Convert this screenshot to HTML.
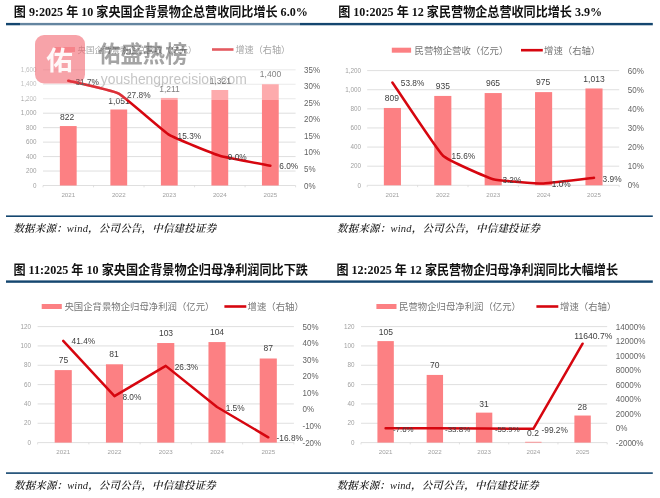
<!DOCTYPE html>
<html lang="zh"><head><meta charset="utf-8"><title>charts</title>
<style>
html,body{margin:0;padding:0;background:#fff}
body{width:660px;height:498px;overflow:hidden}
svg{display:block;filter:blur(0.3px)}
text{font-family:'Liberation Sans','Noto Sans CJK SC',sans-serif;white-space:pre}
.tt{font-family:'Liberation Serif','Noto Sans CJK SC',serif;font-size:13px;font-weight:bold;fill:#111}
.ll{font-size:6.3px;fill:#a0a0a0;text-anchor:end}
.xl{font-size:6.2px;fill:#a0a0a0;text-anchor:middle}
.rl{fill:#646464}
.bl{font-size:8.5px;fill:#404040;text-anchor:middle}
.dl{fill:#404040}
.lg{fill:#767676}
.src{font-family:'Liberation Serif','Noto Serif CJK SC',serif;font-size:10.5px;font-style:italic;font-weight:600;fill:#222}
.w0{font-size:26.5px;font-weight:bold;fill:#fff;fill-opacity:.92;text-anchor:middle}
.w1{font-size:22.2px;font-weight:bold;fill:#a4a4a4;mix-blend-mode:multiply}
.w2{font-size:14.6px;fill:#c6c6c6;mix-blend-mode:multiply}
</style>
</head><body>
<svg width="660" height="498" viewBox="0 0 660 498">
<rect width="660" height="498" fill="#fff"/>
<g>
<text x="13.8" y="16.3" class="tt" textLength="294" lengthAdjust="spacingAndGlyphs">图 9:2025 年 10 家央国企背景物企总营收同比增长 6.0%</text>
<rect x="6" y="22.9" width="324" height="2.4" fill="#14466f"/>
<line x1="43" x2="295.6" y1="185.5" y2="185.5" stroke="#d4d4d4" stroke-width="0.75"/>
<text x="36.5" y="187.7" class="ll">0</text>
<line x1="43" x2="295.6" y1="171.04" y2="171.04" stroke="#d4d4d4" stroke-width="0.75"/>
<text x="36.5" y="173.24" class="ll">200</text>
<line x1="43" x2="295.6" y1="156.57" y2="156.57" stroke="#d4d4d4" stroke-width="0.75"/>
<text x="36.5" y="158.77" class="ll">400</text>
<line x1="43" x2="295.6" y1="142.11" y2="142.11" stroke="#d4d4d4" stroke-width="0.75"/>
<text x="36.5" y="144.31" class="ll">600</text>
<line x1="43" x2="295.6" y1="127.65" y2="127.65" stroke="#d4d4d4" stroke-width="0.75"/>
<text x="36.5" y="129.85" class="ll">800</text>
<line x1="43" x2="295.6" y1="113.19" y2="113.19" stroke="#d4d4d4" stroke-width="0.75"/>
<text x="36.5" y="115.39" class="ll">1,000</text>
<line x1="43" x2="295.6" y1="98.72" y2="98.72" stroke="#d4d4d4" stroke-width="0.75"/>
<text x="36.5" y="100.92" class="ll">1,200</text>
<line x1="43" x2="295.6" y1="84.26" y2="84.26" stroke="#d4d4d4" stroke-width="0.75"/>
<text x="36.5" y="86.46" class="ll">1,400</text>
<line x1="43" x2="295.6" y1="69.8" y2="69.8" stroke="#d4d4d4" stroke-width="0.75"/>
<text x="36.5" y="72" class="ll">1,600</text>
<line x1="43" x2="43" y1="185.5" y2="187.3" stroke="#d4d4d4" stroke-width="0.7"/>
<line x1="93.52" x2="93.52" y1="185.5" y2="187.3" stroke="#d4d4d4" stroke-width="0.7"/>
<line x1="144.04" x2="144.04" y1="185.5" y2="187.3" stroke="#d4d4d4" stroke-width="0.7"/>
<line x1="194.56" x2="194.56" y1="185.5" y2="187.3" stroke="#d4d4d4" stroke-width="0.7"/>
<line x1="245.08" x2="245.08" y1="185.5" y2="187.3" stroke="#d4d4d4" stroke-width="0.7"/>
<line x1="295.6" x2="295.6" y1="185.5" y2="187.3" stroke="#d4d4d4" stroke-width="0.7"/>
<rect x="59.86" y="126.06" width="16.8" height="59.44" fill="#fc8083"/>
<rect x="110.38" y="109.5" width="16.8" height="76" fill="#fc8083"/>
<rect x="160.9" y="97.93" width="16.8" height="87.57" fill="#fc8083"/>
<rect x="211.42" y="89.98" width="16.8" height="95.52" fill="#fc8083"/>
<rect x="261.94" y="84.26" width="16.8" height="101.24" fill="#fc8083"/>
<text x="68.26" y="196.9" class="xl">2021</text>
<text x="118.78" y="196.9" class="xl">2022</text>
<text x="169.3" y="196.9" class="xl">2023</text>
<text x="219.82" y="196.9" class="xl">2024</text>
<text x="270.34" y="196.9" class="xl">2025</text>
<text transform="translate(304 188.5) scale(0.92 1)" class="rl" font-size="8.7">0%</text>
<text transform="translate(304 171.97) scale(0.92 1)" class="rl" font-size="8.7">5%</text>
<text transform="translate(304 155.44) scale(0.92 1)" class="rl" font-size="8.7">10%</text>
<text transform="translate(304 138.91) scale(0.92 1)" class="rl" font-size="8.7">15%</text>
<text transform="translate(304 122.39) scale(0.92 1)" class="rl" font-size="8.7">20%</text>
<text transform="translate(304 105.86) scale(0.92 1)" class="rl" font-size="8.7">25%</text>
<text transform="translate(304 89.33) scale(0.92 1)" class="rl" font-size="8.7">30%</text>
<text transform="translate(304 72.8) scale(0.92 1)" class="rl" font-size="8.7">35%</text>
<text x="67.2" y="119.6" class="bl">822</text>
<text x="119" y="104" class="bl">1,051</text>
<text x="169.5" y="91.6" class="bl">1,211</text>
<text x="220.4" y="83.5" class="bl">1,321</text>
<text x="270.5" y="77" class="bl">1,400</text>
<path d="M68.26 80.71 C71.04 81.42 113.22 90.62 118.78 93.6 C124.34 96.58 163.74 131.5 169.3 134.92 C174.86 138.34 214.26 154.06 219.82 155.75 C225.38 157.44 267.56 165.12 270.34 165.67" fill="none" stroke="#d6060f" stroke-width="2.5" stroke-linejoin="round" stroke-linecap="round"/>
<text x="75.4" y="85.2" class="dl" font-size="8.3">31.7%</text>
<text x="127" y="97.8" class="dl" font-size="8.3">27.8%</text>
<text x="177.6" y="139.4" class="dl" font-size="8.3">15.3%</text>
<text x="227.8" y="159.8" class="dl" font-size="8.3">9.0%</text>
<text x="279.3" y="169.4" class="dl" font-size="8.3">6.0%</text>
<rect x="55" y="47" width="20" height="5" fill="#fc8083"/>
<text x="77.5" y="52.8" class="lg" font-size="8.5">央国企背景物企总营收（亿元）</text>
<line x1="212" x2="233.5" y1="49.5" y2="49.5" stroke="#d6060f" stroke-width="2.6"/>
<text x="235.5" y="52.8" class="lg" font-size="9.1">增速（右轴）</text>
<rect x="6" y="215.4" width="324" height="1.6" fill="#14466f"/>
<text x="13.4" y="231.5" class="src" textLength="202.8" lengthAdjust="spacing">数据来源：<tspan font-weight="normal">wind</tspan>，公司公告，中信建投证券</text>
</g>
<g>
<text x="338.2" y="16.3" class="tt" textLength="264" lengthAdjust="spacingAndGlyphs">图 10:2025 年 12 家民营物企总营收同比增长 3.9%</text>
<rect x="330" y="22.9" width="322.8" height="2.4" fill="#14466f"/>
<line x1="367.2" x2="619.2" y1="185.3" y2="185.3" stroke="#d4d4d4" stroke-width="0.75"/>
<text x="361" y="187.5" class="ll">0</text>
<line x1="367.2" x2="619.2" y1="166.18" y2="166.18" stroke="#d4d4d4" stroke-width="0.75"/>
<text x="361" y="168.38" class="ll">200</text>
<line x1="367.2" x2="619.2" y1="147.07" y2="147.07" stroke="#d4d4d4" stroke-width="0.75"/>
<text x="361" y="149.27" class="ll">400</text>
<line x1="367.2" x2="619.2" y1="127.95" y2="127.95" stroke="#d4d4d4" stroke-width="0.75"/>
<text x="361" y="130.15" class="ll">600</text>
<line x1="367.2" x2="619.2" y1="108.83" y2="108.83" stroke="#d4d4d4" stroke-width="0.75"/>
<text x="361" y="111.03" class="ll">800</text>
<line x1="367.2" x2="619.2" y1="89.72" y2="89.72" stroke="#d4d4d4" stroke-width="0.75"/>
<text x="361" y="91.92" class="ll">1,000</text>
<line x1="367.2" x2="619.2" y1="70.6" y2="70.6" stroke="#d4d4d4" stroke-width="0.75"/>
<text x="361" y="72.8" class="ll">1,200</text>
<line x1="367.2" x2="367.2" y1="185.3" y2="187.1" stroke="#d4d4d4" stroke-width="0.7"/>
<line x1="417.6" x2="417.6" y1="185.3" y2="187.1" stroke="#d4d4d4" stroke-width="0.7"/>
<line x1="468" x2="468" y1="185.3" y2="187.1" stroke="#d4d4d4" stroke-width="0.7"/>
<line x1="518.4" x2="518.4" y1="185.3" y2="187.1" stroke="#d4d4d4" stroke-width="0.7"/>
<line x1="568.8" x2="568.8" y1="185.3" y2="187.1" stroke="#d4d4d4" stroke-width="0.7"/>
<line x1="619.2" x2="619.2" y1="185.3" y2="187.1" stroke="#d4d4d4" stroke-width="0.7"/>
<rect x="383.85" y="107.97" width="17.1" height="77.33" fill="#fc8083"/>
<rect x="434.25" y="95.93" width="17.1" height="89.37" fill="#fc8083"/>
<rect x="484.65" y="93.06" width="17.1" height="92.24" fill="#fc8083"/>
<rect x="535.05" y="92.11" width="17.1" height="93.19" fill="#fc8083"/>
<rect x="585.45" y="88.47" width="17.1" height="96.83" fill="#fc8083"/>
<text x="392.4" y="196.7" class="xl">2021</text>
<text x="442.8" y="196.7" class="xl">2022</text>
<text x="493.2" y="196.7" class="xl">2023</text>
<text x="543.6" y="196.7" class="xl">2024</text>
<text x="594" y="196.7" class="xl">2025</text>
<text transform="translate(627.8 188.3) scale(0.92 1)" class="rl" font-size="8.7">0%</text>
<text transform="translate(627.8 169.18) scale(0.92 1)" class="rl" font-size="8.7">10%</text>
<text transform="translate(627.8 150.07) scale(0.92 1)" class="rl" font-size="8.7">20%</text>
<text transform="translate(627.8 130.95) scale(0.92 1)" class="rl" font-size="8.7">30%</text>
<text transform="translate(627.8 111.83) scale(0.92 1)" class="rl" font-size="8.7">40%</text>
<text transform="translate(627.8 92.72) scale(0.92 1)" class="rl" font-size="8.7">50%</text>
<text transform="translate(627.8 73.6) scale(0.92 1)" class="rl" font-size="8.7">60%</text>
<text x="391.8" y="100.9" class="bl">809</text>
<text x="442.8" y="89.2" class="bl">935</text>
<text x="493" y="86.2" class="bl">965</text>
<text x="543.2" y="85.3" class="bl">975</text>
<text x="594" y="82" class="bl">1,013</text>
<path d="M392.4 82.45 C395.17 86.47 437.26 150.16 442.8 155.48 C448.34 160.8 487.66 177.65 493.2 179.18 C498.74 180.72 538.06 183.46 543.6 183.39 C549.14 183.31 591.23 178.15 594 177.84" fill="none" stroke="#d6060f" stroke-width="2.5" stroke-linejoin="round" stroke-linecap="round"/>
<text x="400.8" y="85.8" class="dl" font-size="8.3">53.8%</text>
<text x="451.6" y="159" class="dl" font-size="8.3">15.6%</text>
<text x="502.4" y="183.4" class="dl" font-size="8.3">3.2%</text>
<text x="551.8" y="187.3" class="dl" font-size="8.3">1.0%</text>
<text x="602.6" y="182.4" class="dl" font-size="8.3">3.9%</text>
<rect x="391.8" y="47.7" width="19.3" height="5" fill="#fc8083"/>
<text x="414.5" y="53.5" class="lg" font-size="9.4">民营物企营收（亿元）</text>
<line x1="521" x2="542.8" y1="50.2" y2="50.2" stroke="#d6060f" stroke-width="2.6"/>
<text x="544" y="53.5" class="lg" font-size="9.4">增速（右轴）</text>
<rect x="330" y="215.4" width="322.8" height="1.6" fill="#14466f"/>
<text x="337" y="231.5" class="src" textLength="203" lengthAdjust="spacing">数据来源：<tspan font-weight="normal">wind</tspan>，公司公告，中信建投证券</text>
</g>
<g>
<text x="13.4" y="274.3" class="tt" textLength="294.6" lengthAdjust="spacingAndGlyphs">图 11:2025 年 10 家央国企背景物企归母净利润同比下跌</text>
<rect x="6" y="280.4" width="324" height="2.4" fill="#14466f"/>
<line x1="37.6" x2="293.9" y1="442.6" y2="442.6" stroke="#d4d4d4" stroke-width="0.75"/>
<text x="31" y="444.8" class="ll">0</text>
<line x1="37.6" x2="293.9" y1="423.27" y2="423.27" stroke="#d4d4d4" stroke-width="0.75"/>
<text x="31" y="425.47" class="ll">20</text>
<line x1="37.6" x2="293.9" y1="403.93" y2="403.93" stroke="#d4d4d4" stroke-width="0.75"/>
<text x="31" y="406.13" class="ll">40</text>
<line x1="37.6" x2="293.9" y1="384.6" y2="384.6" stroke="#d4d4d4" stroke-width="0.75"/>
<text x="31" y="386.8" class="ll">60</text>
<line x1="37.6" x2="293.9" y1="365.27" y2="365.27" stroke="#d4d4d4" stroke-width="0.75"/>
<text x="31" y="367.47" class="ll">80</text>
<line x1="37.6" x2="293.9" y1="345.93" y2="345.93" stroke="#d4d4d4" stroke-width="0.75"/>
<text x="31" y="348.13" class="ll">100</text>
<line x1="37.6" x2="293.9" y1="326.6" y2="326.6" stroke="#d4d4d4" stroke-width="0.75"/>
<text x="31" y="328.8" class="ll">120</text>
<line x1="37.6" x2="37.6" y1="442.6" y2="444.4" stroke="#d4d4d4" stroke-width="0.7"/>
<line x1="88.86" x2="88.86" y1="442.6" y2="444.4" stroke="#d4d4d4" stroke-width="0.7"/>
<line x1="140.12" x2="140.12" y1="442.6" y2="444.4" stroke="#d4d4d4" stroke-width="0.7"/>
<line x1="191.38" x2="191.38" y1="442.6" y2="444.4" stroke="#d4d4d4" stroke-width="0.7"/>
<line x1="242.64" x2="242.64" y1="442.6" y2="444.4" stroke="#d4d4d4" stroke-width="0.7"/>
<line x1="293.9" x2="293.9" y1="442.6" y2="444.4" stroke="#d4d4d4" stroke-width="0.7"/>
<rect x="54.68" y="370.1" width="17.1" height="72.5" fill="#fc8083"/>
<rect x="105.94" y="364.3" width="17.1" height="78.3" fill="#fc8083"/>
<rect x="157.2" y="343.03" width="17.1" height="99.57" fill="#fc8083"/>
<rect x="208.46" y="342.07" width="17.1" height="100.53" fill="#fc8083"/>
<rect x="259.72" y="358.5" width="17.1" height="84.1" fill="#fc8083"/>
<text x="63.23" y="454" class="xl">2021</text>
<text x="114.49" y="454" class="xl">2022</text>
<text x="165.75" y="454" class="xl">2023</text>
<text x="217.01" y="454" class="xl">2024</text>
<text x="268.27" y="454" class="xl">2025</text>
<text transform="translate(302.5 445.6) scale(0.92 1)" class="rl" font-size="8.7">-20%</text>
<text transform="translate(302.5 429.03) scale(0.92 1)" class="rl" font-size="8.7">-10%</text>
<text transform="translate(302.5 412.46) scale(0.92 1)" class="rl" font-size="8.7">0%</text>
<text transform="translate(302.5 395.89) scale(0.92 1)" class="rl" font-size="8.7">10%</text>
<text transform="translate(302.5 379.31) scale(0.92 1)" class="rl" font-size="8.7">20%</text>
<text transform="translate(302.5 362.74) scale(0.92 1)" class="rl" font-size="8.7">30%</text>
<text transform="translate(302.5 346.17) scale(0.92 1)" class="rl" font-size="8.7">40%</text>
<text transform="translate(302.5 329.6) scale(0.92 1)" class="rl" font-size="8.7">50%</text>
<text x="63.5" y="363" class="bl">75</text>
<text x="114" y="357.1" class="bl">81</text>
<text x="166" y="335.9" class="bl">103</text>
<text x="217" y="334.7" class="bl">104</text>
<text x="268.3" y="351.4" class="bl">87</text>
<path d="M63.23 340.85 L114.49 396.2 L165.75 365.87 L217.01 406.97 L268.27 437.3" fill="none" stroke="#d6060f" stroke-width="2.5" stroke-linejoin="round" stroke-linecap="round"/>
<text x="71.6" y="344.4" class="dl" font-size="8.3">41.4%</text>
<text x="122.4" y="399.9" class="dl" font-size="8.3">8.0%</text>
<text x="174.7" y="369.9" class="dl" font-size="8.3">26.3%</text>
<text x="225.7" y="411" class="dl" font-size="8.3">1.5%</text>
<text x="276.6" y="441.4" class="dl" font-size="8.3">-16.8%</text>
<rect x="41.7" y="304" width="20.1" height="5" fill="#fc8083"/>
<text x="64.4" y="309.8" class="lg" font-size="9.4">央国企背景物企归母净利润（亿元）</text>
<line x1="224.4" x2="246.3" y1="306.5" y2="306.5" stroke="#d6060f" stroke-width="2.6"/>
<text x="247.6" y="309.8" class="lg" font-size="9.4">增速（右轴）</text>
<rect x="6" y="472.3" width="324" height="1.6" fill="#14466f"/>
<text x="14" y="488.5" class="src" textLength="201.8" lengthAdjust="spacing">数据来源：<tspan font-weight="normal">wind</tspan>，公司公告，中信建投证券</text>
</g>
<g>
<text x="336.4" y="274.3" class="tt" textLength="281.6" lengthAdjust="spacingAndGlyphs">图 12:2025 年 12 家民营物企归母净利润同比大幅增长</text>
<rect x="330" y="280.4" width="322.8" height="2.4" fill="#14466f"/>
<line x1="361" x2="607.2" y1="442.6" y2="442.6" stroke="#d4d4d4" stroke-width="0.75"/>
<text x="354.5" y="444.8" class="ll">0</text>
<line x1="361" x2="607.2" y1="423.27" y2="423.27" stroke="#d4d4d4" stroke-width="0.75"/>
<text x="354.5" y="425.47" class="ll">20</text>
<line x1="361" x2="607.2" y1="403.93" y2="403.93" stroke="#d4d4d4" stroke-width="0.75"/>
<text x="354.5" y="406.13" class="ll">40</text>
<line x1="361" x2="607.2" y1="384.6" y2="384.6" stroke="#d4d4d4" stroke-width="0.75"/>
<text x="354.5" y="386.8" class="ll">60</text>
<line x1="361" x2="607.2" y1="365.27" y2="365.27" stroke="#d4d4d4" stroke-width="0.75"/>
<text x="354.5" y="367.47" class="ll">80</text>
<line x1="361" x2="607.2" y1="345.93" y2="345.93" stroke="#d4d4d4" stroke-width="0.75"/>
<text x="354.5" y="348.13" class="ll">100</text>
<line x1="361" x2="607.2" y1="326.6" y2="326.6" stroke="#d4d4d4" stroke-width="0.75"/>
<text x="354.5" y="328.8" class="ll">120</text>
<line x1="361" x2="361" y1="442.6" y2="444.4" stroke="#d4d4d4" stroke-width="0.7"/>
<line x1="410.24" x2="410.24" y1="442.6" y2="444.4" stroke="#d4d4d4" stroke-width="0.7"/>
<line x1="459.48" x2="459.48" y1="442.6" y2="444.4" stroke="#d4d4d4" stroke-width="0.7"/>
<line x1="508.72" x2="508.72" y1="442.6" y2="444.4" stroke="#d4d4d4" stroke-width="0.7"/>
<line x1="557.96" x2="557.96" y1="442.6" y2="444.4" stroke="#d4d4d4" stroke-width="0.7"/>
<line x1="607.2" x2="607.2" y1="442.6" y2="444.4" stroke="#d4d4d4" stroke-width="0.7"/>
<rect x="377.42" y="341.1" width="16.4" height="101.5" fill="#fc8083"/>
<rect x="426.66" y="374.93" width="16.4" height="67.67" fill="#fc8083"/>
<rect x="475.9" y="412.63" width="16.4" height="29.97" fill="#fc8083"/>
<rect x="525.14" y="441.8" width="16.4" height="0.8" fill="#fc8083"/>
<rect x="574.38" y="415.53" width="16.4" height="27.07" fill="#fc8083"/>
<text x="385.62" y="454" class="xl">2021</text>
<text x="434.86" y="454" class="xl">2022</text>
<text x="484.1" y="454" class="xl">2023</text>
<text x="533.34" y="454" class="xl">2024</text>
<text x="582.58" y="454" class="xl">2025</text>
<text transform="translate(615.7 445.6) scale(0.92 1)" class="rl" font-size="8.8">-2000%</text>
<text transform="translate(615.7 431.1) scale(0.92 1)" class="rl" font-size="8.8">0%</text>
<text transform="translate(615.7 416.6) scale(0.92 1)" class="rl" font-size="8.8">2000%</text>
<text transform="translate(615.7 402.1) scale(0.92 1)" class="rl" font-size="8.8">4000%</text>
<text transform="translate(615.7 387.6) scale(0.92 1)" class="rl" font-size="8.8">6000%</text>
<text transform="translate(615.7 373.1) scale(0.92 1)" class="rl" font-size="8.8">8000%</text>
<text transform="translate(615.7 358.6) scale(0.92 1)" class="rl" font-size="8.8">10000%</text>
<text transform="translate(615.7 344.1) scale(0.92 1)" class="rl" font-size="8.8">12000%</text>
<text transform="translate(615.7 329.6) scale(0.92 1)" class="rl" font-size="8.8">14000%</text>
<text x="385.8" y="334.7" class="bl">105</text>
<text x="434.8" y="368.1" class="bl">70</text>
<text x="483.9" y="406.6" class="bl">31</text>
<text x="533" y="435.5" class="bl">0.2</text>
<text x="582.3" y="409.8" class="bl">28</text>
<path d="M385.62 428.16 L434.86 428.35 L484.1 428.51 L533.34 428.82 L582.58 343.7" fill="none" stroke="#d6060f" stroke-width="2.5" stroke-linejoin="round" stroke-linecap="round"/>
<text x="393" y="432.1" class="dl" font-size="7.9">-7.6%</text>
<text x="445" y="432.1" class="dl" font-size="8.0">-33.8%</text>
<text x="494.9" y="432.1" class="dl" font-size="7.8">-55.9%</text>
<text x="541.5" y="433.4" class="dl" font-size="8.3">-99.2%</text>
<text x="574.3" y="339.1" class="dl" font-size="8.6">11640.7%</text>
<rect x="376.4" y="304" width="20.1" height="5" fill="#fc8083"/>
<text x="399" y="309.8" class="lg" font-size="9.4">民营物企归母净利润（亿元）</text>
<line x1="536.4" x2="558.3" y1="306.5" y2="306.5" stroke="#d6060f" stroke-width="2.6"/>
<text x="560" y="309.8" class="lg" font-size="9.4">增速（右轴）</text>
<rect x="330" y="472.3" width="322.8" height="1.6" fill="#14466f"/>
<text x="336.7" y="488.5" class="src" textLength="202" lengthAdjust="spacing">数据来源：<tspan font-weight="normal">wind</tspan>，公司公告，中信建投证券</text>
</g>
<g>
<rect x="20" y="20" width="280" height="80" fill="#fff" fill-opacity="0.34"/>
<rect x="35" y="35" width="50" height="48.5" rx="9" ry="9" fill="#f26b75" fill-opacity="0.62"/>
<text x="59.6" y="69.6" class="w0">佑</text>
<text x="98.2" y="61.9" class="w1" textLength="89.3" lengthAdjust="spacingAndGlyphs">佑盛热榜</text>
<text x="100.8" y="84.2" class="w2" textLength="146" lengthAdjust="spacingAndGlyphs">youshengprecision.com</text>
</g>
<clipPath id="wm"><rect x="20" y="20" width="280" height="80"/></clipPath>
<g clip-path="url(#wm)" opacity="0.5">
<path d="M68.26 80.71 C71.04 81.42 113.22 90.62 118.78 93.6 C124.34 96.58 163.74 131.5 169.3 134.92 C174.86 138.34 214.26 154.06 219.82 155.75 C225.38 157.44 267.56 165.12 270.34 165.67" fill="none" stroke="#d6060f" stroke-width="2.5" stroke-linejoin="round" stroke-linecap="round"/>
<text x="75.4" y="85.2" class="dl" font-size="8.3">31.7%</text>
<text x="127" y="97.8" class="dl" font-size="8.3">27.8%</text>
</g>
</svg>
</body></html>
